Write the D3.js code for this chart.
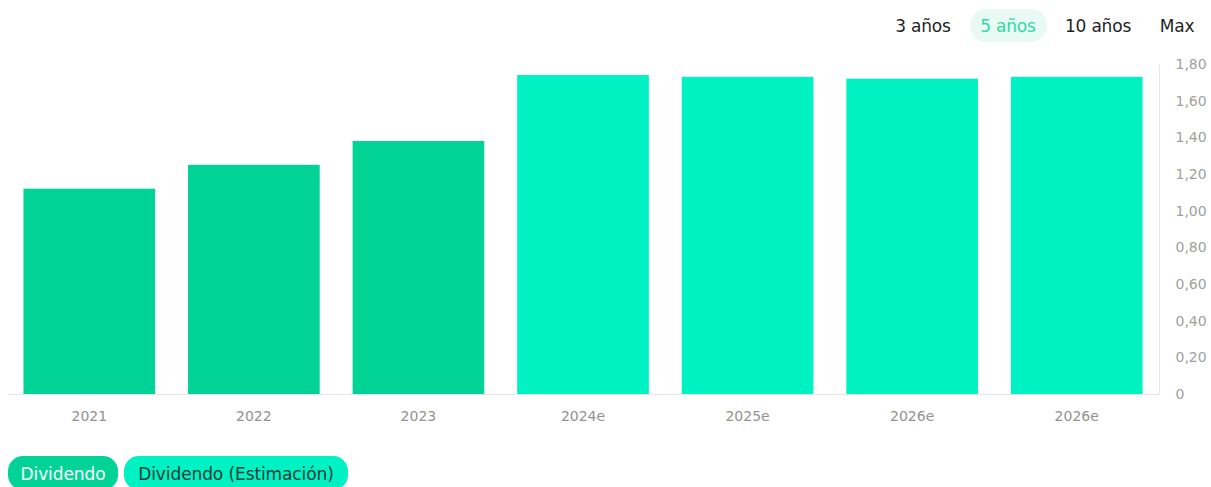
<!DOCTYPE html>
<html>
<head>
<meta charset="utf-8">
<script src="https://cdn.jsdelivr.net/npm/d3@7"></script>
<style>
  body { margin: 0; background: #fff; }
  svg { display: block; }
</style>
</head>
<body>
<svg id="chart" width="1211" height="487"></svg>
<script>
// data
const years = ["2021", "2022", "2023", "2024e", "2025e", "2026e", "2026e "];
const dividends = [1.12, 1.25, 1.38, 1.74, 1.73, 1.72, 1.73];
const estimated = [false, false, false, true, true, true, true];
const yTicks = [0, 0.2, 0.4, 0.6, 0.8, 1.0, 1.2, 1.4, 1.6, 1.8];
const periods = ["3 años", "5 años", "10 años", "Max"];
const legendItems = ["Dividendo", "Dividendo (Estimación)"];

const colActual = "#00d395";
const colEst = "#00f2c3";
const font = "'DejaVu Sans', Verdana, sans-serif";

const svg = d3.select("#chart");
const plotBottom = 394;

const x = d3.scaleBand()
  .domain(years)
  .range([7, 1159])
  .paddingInner(0.2)
  .paddingOuter(0.1);

const y = d3.scaleLinear()
  .domain([0, 1.8])
  .range([plotBottom, 64]);

const fmt = v => v === 0 ? "0" : d3.format(".2f")(v).replace(".", ",");

// bars
svg.append("g")
  .selectAll("rect")
  .data(years)
  .enter()
  .append("rect")
  .attr("x", d => x(d))
  .attr("width", x.bandwidth())
  .attr("y", (d, i) => y(dividends[i]))
  .attr("height", (d, i) => y(0) - y(dividends[i]))
  .attr("fill", (d, i) => estimated[i] ? colEst : colActual);

// baseline
svg.append("line")
  .attr("x1", 8).attr("x2", 1159)
  .attr("y1", y(0) + 0.5).attr("y2", y(0) + 0.5)
  .attr("stroke", "#e6e6e6");

// y axis on right
const yAxis = svg.append("g")
  .attr("transform", "translate(1159.5,0)")
  .call(d3.axisRight(y).tickValues(yTicks).tickFormat(fmt).tickSize(0).tickPadding(16));
yAxis.select(".domain").attr("stroke", "#e6e6e6").attr("d", "M0," + (y(1.8) + 1) + "V" + y(0));
yAxis.selectAll("text")
  .style("font-family", font)
  .style("font-size", "14px")
  .attr("fill", "#a0a0a0");

// x axis
const xAxis = svg.append("g")
  .attr("transform", "translate(0," + plotBottom + ")")
  .call(d3.axisBottom(x).tickSize(0).tickPadding(17));
xAxis.select(".domain").remove();
xAxis.selectAll("text")
  .text(d => d.trim())
  .style("font-family", font)
  .style("font-size", "14px")
  .attr("fill", "#929292");

// period selector
const periodX = [923, 1008, 1098, 1177];
const pg = svg.append("g");
pg.append("rect")
  .attr("x", 970).attr("y", 9).attr("width", 77).attr("height", 33)
  .attr("rx", 16.5).attr("fill", "#e8faf3");
pg.selectAll("text")
  .data(periods)
  .enter()
  .append("text")
  .attr("x", (d, i) => periodX[i])
  .attr("y", 26)
  .attr("dy", "0.35em")
  .attr("text-anchor", "middle")
  .style("font-family", font)
  .style("font-size", "17px")
  .style("letter-spacing", "-0.2px")
  .attr("fill", (d, i) => i === 1 ? "#2fd9a6" : "#1f1f1f")
  .text(d => d);

// legend pills
const lg = svg.append("g");
const pills = [
  { x: 8, w: 110, fill: colActual, text: "#ffffff" },
  { x: 124, w: 224, fill: colEst, text: "#123c3a" }
];
legendItems.forEach((name, i) => {
  const p = pills[i];
  lg.append("rect")
    .attr("x", p.x).attr("y", 456).attr("width", p.w).attr("height", 34)
    .attr("rx", 15).attr("fill", p.fill);
  lg.append("text")
    .attr("x", p.x + p.w / 2).attr("y", 474)
    .attr("dy", "0.35em")
    .attr("text-anchor", "middle")
    .style("font-family", font)
    .style("font-size", "17px")
    .style("letter-spacing", "-0.1px")
    .attr("fill", p.text)
    .text(name);
});
</script>
</body>
</html>
